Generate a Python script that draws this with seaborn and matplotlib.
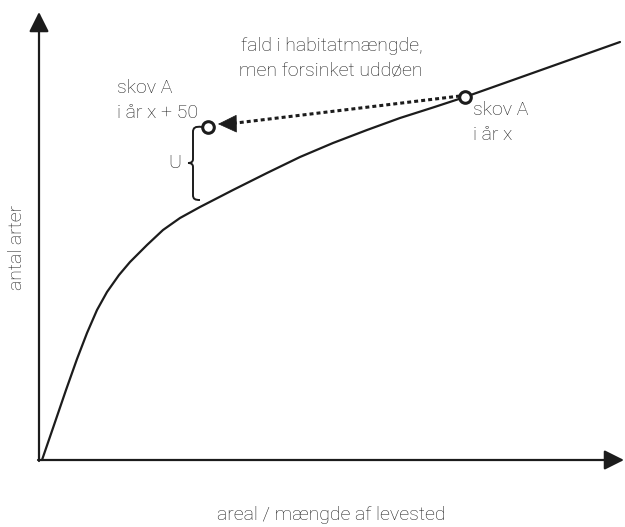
import numpy as np
import pandas as pd
import matplotlib
matplotlib.use("Agg")
import matplotlib.pyplot as plt
from matplotlib.path import Path
from matplotlib.patches import PathPatch
import seaborn as sns

# species-area curve (area, species)
area = [3, 14, 27, 38, 48, 58, 68, 80, 91, 108, 124, 141, 161, 194, 228,
        261, 294, 328, 361, 394, 426, 474, 581]
species = [0, 32, 70, 101, 127, 150, 168, 185, 198, 215, 230, 242, 253, 270, 287,
           303, 317, 330, 342, 352.5, 363, 380, 418]

# forest A in year x (on curve) and in year x + 50 (above curve)
point_area = [426, 169]
point_species = [363, 333]
point_labels = ["skov A\ni år x", "skov A\ni år x + 50"]

x_label = "areal / mængde af levested"
y_label = "antal arter"
title_lines = ["fald i habitatmængde,", "men forsinket uddøen"]
gap_label = "U"

sns.set_theme(style="white")
plt.rcParams["font.family"] = ["Roboto", "DejaVu Sans"]

ink = "#1c1c1c"
txt = "#1e1e1e"

fig = plt.figure(figsize=(6.25, 5.27), dpi=100)
ax = fig.add_axes([0, 0, 1, 1])
ax.set_xlim(-39, 586)
ax.set_ylim(-67, 460)
ax.axis("off")

# axes with arrowheads
ax.annotate("", xy=(0, 448), xytext=(0, -1),
            arrowprops=dict(arrowstyle="-|>,head_length=1.0,head_width=0.5",
                            color=ink, lw=1.6, shrinkA=0, shrinkB=0))
ax.annotate("", xy=(585, 0), xytext=(-1, 0),
            arrowprops=dict(arrowstyle="-|>,head_length=1.0,head_width=0.5",
                            color=ink, lw=1.6, shrinkA=0, shrinkB=0))

df = pd.DataFrame({"area": area, "species": species})
sns.lineplot(data=df, x="area", y="species", ax=ax, color=ink, lw=1.6,
             sort=False, estimator=None)

# dotted arrow from year x to year x + 50
ax.plot([point_area[0] - 5, point_area[1] + 28], [point_species[0] + 1, point_species[1] + 4],
        color=ink, lw=2.2, linestyle=(0, (1.3, 1.0)), solid_capstyle="butt")
ax.annotate("", xy=(point_area[1] + 10, point_species[1] + 3),
            xytext=(point_area[1] + 28, point_species[1] + 3.3),
            arrowprops=dict(arrowstyle="-|>,head_length=1.05,head_width=0.5",
                            color=ink, lw=0.5, shrinkA=0, shrinkB=0))

pts = pd.DataFrame({"area": point_area, "species": point_species})
sns.scatterplot(data=pts, x="area", y="species", ax=ax, s=70, marker="o",
                facecolor="white", edgecolor=ink, linewidth=2.2, zorder=5)

# curly brace (gap U)
bx, top, bot, mid = 154, 332, 261, 297
verts = [(bx + 9, top + 1), (bx + 2, top + 2), (bx, top), (bx, top - 4),
         (bx, mid + 4),
         (bx, mid + 1), (bx - 2, mid), (bx - 5, mid),
         (bx - 2, mid), (bx, mid - 1), (bx, mid - 4),
         (bx, bot + 4),
         (bx, bot), (bx + 2, bot - 1), (bx + 7, bot - 1)]
codes = [Path.MOVETO, Path.CURVE4, Path.CURVE4, Path.CURVE4,
         Path.LINETO,
         Path.CURVE4, Path.CURVE4, Path.CURVE4,
         Path.CURVE4, Path.CURVE4, Path.CURVE4,
         Path.LINETO,
         Path.CURVE4, Path.CURVE4, Path.CURVE4]
ax.add_patch(PathPatch(Path(verts, codes), facecolor="none", edgecolor=ink, lw=1.4))

tk = dict(color=txt, fontsize=14, fontweight="light")
ax.text(136, 297, gap_label, ha="center", va="center", **tk)

ax.text(293, 414, title_lines[0], ha="center", va="center", **tk)
ax.text(292, 389, title_lines[1], ha="center", va="center", **tk)

l0 = point_labels[1].split("\n")
ax.text(78, 372, l0[0], ha="left", va="center", **tk)
ax.text(78, 347, l0[1], ha="left", va="center", **tk)
l1 = point_labels[0].split("\n")
ax.text(434, 350, l1[0], ha="left", va="center", **tk)
ax.text(434, 325, l1[1], ha="left", va="center", **tk)

ax.text(292, -55, x_label, ha="center", va="center", **tk)
ax.text(-22, 213, y_label, ha="center", va="center", rotation=90, **tk)

fig.savefig("out.png", dpi=100)
